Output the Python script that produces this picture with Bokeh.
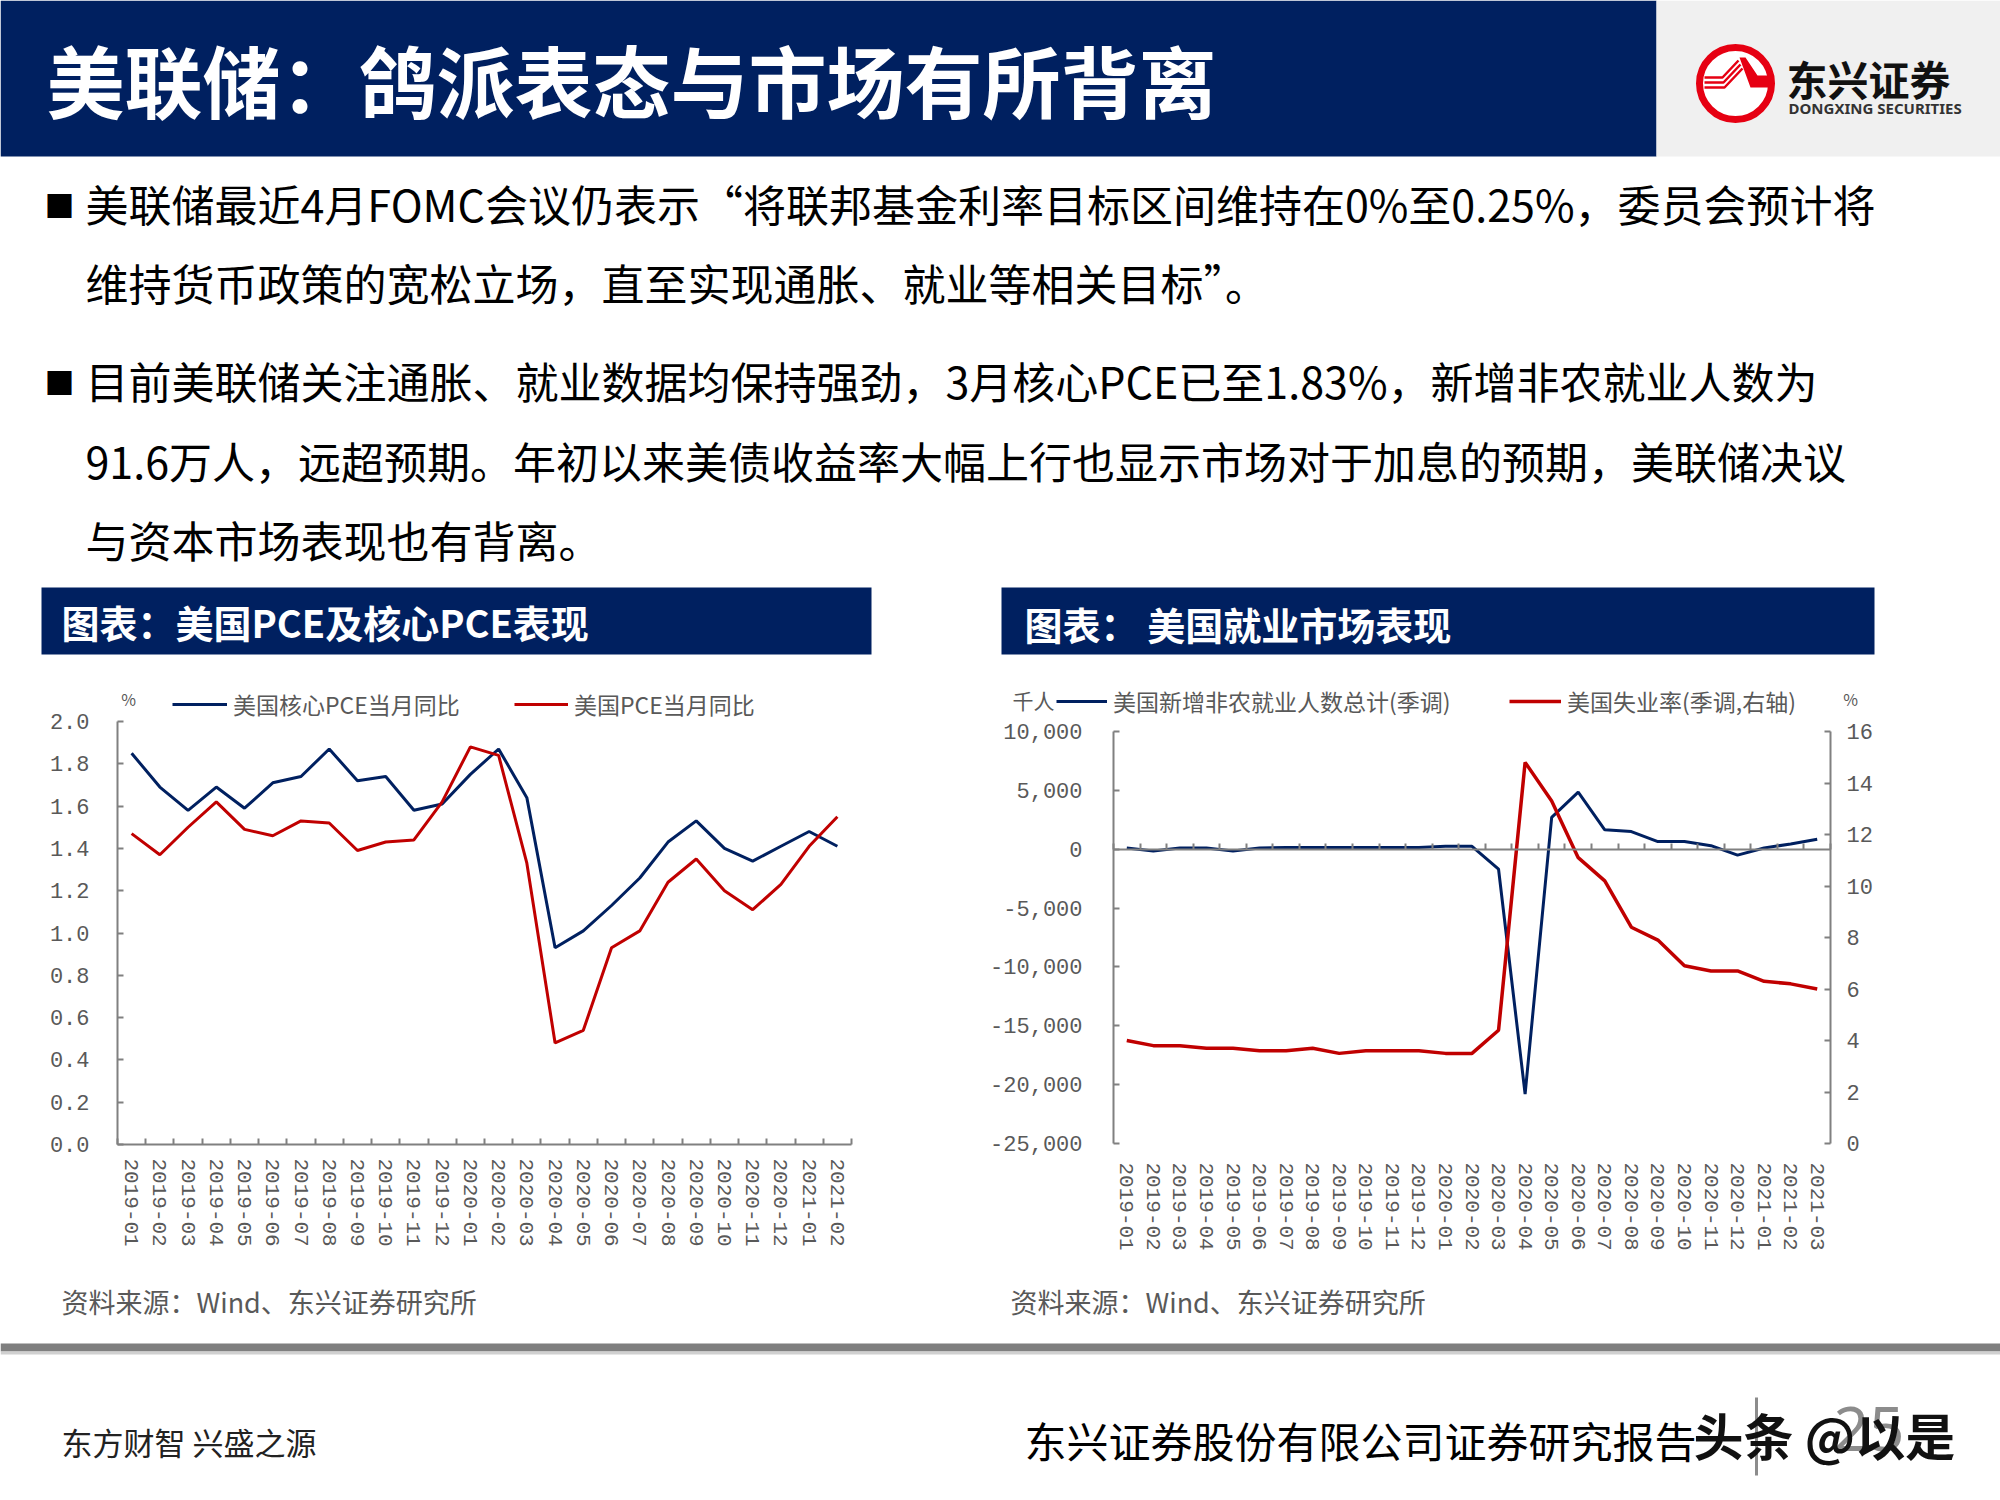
from bokeh.plotting import figure
from bokeh.models import (Range1d, LinearAxis, FixedTicker, NumeralTickFormatter,
                          Legend, LegendItem, Label)
from bokeh.layouts import column, row
from bokeh.core.properties import value
from bokeh.embed import file_html
from bokeh.resources import INLINE

# ---------------- data ----------------
months_pce = ["2019-01", "2019-02", "2019-03", "2019-04", "2019-05", "2019-06",
              "2019-07", "2019-08", "2019-09", "2019-10", "2019-11", "2019-12",
              "2020-01", "2020-02", "2020-03", "2020-04", "2020-05", "2020-06",
              "2020-07", "2020-08", "2020-09", "2020-10", "2020-11", "2020-12",
              "2021-01", "2021-02"]
core_pce = [1.85, 1.69, 1.58, 1.69, 1.59, 1.71, 1.74, 1.87, 1.72, 1.74, 1.58, 1.61,
            1.75, 1.87, 1.64, 0.93, 1.01, 1.13, 1.26, 1.43, 1.53, 1.40, 1.34, 1.41,
            1.48, 1.41]
pce = [1.47, 1.37, 1.50, 1.62, 1.49, 1.46, 1.53, 1.52, 1.39, 1.43, 1.44, 1.62,
       1.88, 1.84, 1.33, 0.48, 0.54, 0.93, 1.01, 1.24, 1.35, 1.20, 1.11, 1.23,
       1.41, 1.55]
pce_ticks = [0.0, 0.2, 0.4, 0.6, 0.8, 1.0, 1.2, 1.4, 1.6, 1.8, 2.0]

months_job = ["2019-01", "2019-02", "2019-03", "2019-04", "2019-05", "2019-06",
              "2019-07", "2019-08", "2019-09", "2019-10", "2019-11", "2019-12",
              "2020-01", "2020-02", "2020-03", "2020-04", "2020-05", "2020-06",
              "2020-07", "2020-08", "2020-09", "2020-10", "2020-11", "2020-12",
              "2021-01", "2021-02", "2021-03"]
nonfarm = [100, -150, 100, 100, -150, 100, 150, 150, 150, 150, 150, 150,
           250, 250, -1700, -20800, 2700, 4850, 1650, 1500, 650, 650, 300, -500,
           100, 450, 850]
unemp = [4.0, 3.8, 3.8, 3.7, 3.7, 3.6, 3.6, 3.7, 3.5, 3.6, 3.6, 3.6,
         3.5, 3.5, 4.4, 14.8, 13.3, 11.1, 10.2, 8.4, 7.9, 6.9, 6.7, 6.7,
         6.3, 6.2, 6.0]
job_ticks = [-25000, -20000, -15000, -10000, -5000, 0, 5000, 10000]
rate_ticks = [0, 2, 4, 6, 8, 10, 12, 14, 16]

title_text = "美联储：鸽派表态与市场有所背离"
body_lines = [
    "美联储最近4月FOMC会议仍表示“将联邦基金利率目标区间维持在0%至0.25%，委员会预计将",
    "维持货币政策的宽松立场，直至实现通胀、就业等相关目标”。",
    "目前美联储关注通胀、就业数据均保持强劲，3月核心PCE已至1.83%，新增非农就业人数为",
    "91.6万人，远超预期。年初以来美债收益率大幅上行也显示市场对于加息的预期，美联储决议",
    "与资本市场表现也有背离。",
]
chart_titles = ["图表：美国PCE及核心PCE表现", "图表：  美国就业市场表现"]
legend_pce = ["美国核心PCE当月同比", "美国PCE当月同比"]
legend_job = ["美国新增非农就业人数总计(季调)", "美国失业率(季调,右轴)"]
source_text = "资料来源：Wind、东兴证券研究所"

# ---------------- style ----------------
CJK = "Noto Sans CJK SC"
MONO = "Liberation Mono"
NAVY = "#002060"
RED = "#c00000"
LOGO_RED = "#e60012"
AXIS = "#808080"
TXT = "#595959"


def deco_fig(width, height, y0, y1):
    p = figure(width=width, height=height, x_range=Range1d(0, width),
               y_range=Range1d(y1, y0), toolbar_location=None, output_backend="svg",
               x_axis_type=None, y_axis_type=None, min_border=0)
    p.outline_line_color = None
    p.background_fill_color = "white"
    p.border_fill_color = "white"
    return p


def ext_range(v0, v1, p0, p1, total):
    """Range whose values v0, v1 fall at pixels p0, p1 of a canvas `total` px long."""
    scale = (v1 - v0) / (p1 - p0)
    return Range1d(v0 - p0 * scale, v1 + (total - p1) * scale)


# ---------------- top part ----------------
top = deco_fig(2000, 655, 0, 655)
top.quad(left=[0], right=[1656], top=[0], bottom=[156], fill_color=NAVY, line_color=None)
top.quad(left=[1656], right=[2000], top=[0], bottom=[156], fill_color="#f0f0f0", line_color=None)
top.text(x=[46], y=[78], text=[title_text], text_font=value(CJK), text_font_size="78px",
         text_font_style="bold", text_color="white", text_baseline="middle")
# logo
top.circle(x=[1735], y=[83], radius=36, fill_color="white", line_color=LOGO_RED, line_width=7)
top.multi_line(xs=[[1704, 1722, 1738], [1704, 1723, 1740], [1704, 1724, 1742]],
               ys=[[77, 77, 60], [82, 82, 64], [87, 87, 68]],
               line_color=LOGO_RED, line_width=2.5)
top.patch(x=[1739, 1745, 1757, 1770, 1770, 1750], y=[57, 57, 75, 75, 87, 87],
          fill_color=LOGO_RED, line_color=None)
top.text(x=[1786], y=[77], text=["东兴证券"], text_font=value(CJK), text_font_size="41px",
         text_font_style="bold", text_color="#111111", text_baseline="middle")
top.text(x=[1788], y=[107], text=["DONGXING SECURITIES"], text_font=value("Noto Sans"),
         text_font_size="15px", text_font_style="bold", text_color="#333333",
         text_baseline="middle")
# body
top.text(x=[44, 44], y=[203, 380], text=["■", "■"], text_font=value(CJK),
         text_font_size="30px", text_color="black", text_baseline="middle")
top.text(x=[85] * 5, y=[202, 281, 379, 459, 538], text=body_lines, text_font=value(CJK),
         text_font_size="43px", text_color="black", text_baseline="middle")
# chart banners
top.quad(left=[41, 1001], right=[871, 1874], top=[587, 587], bottom=[654, 654],
         fill_color=NAVY, line_color=None)
top.text(x=[61, 1024], y=[621, 623], text=chart_titles, text_font=value(CJK),
         text_font_size="38px", text_font_style="bold", text_color="white",
         text_baseline="middle")


def style_axis(ax, tick_in=6, tick_out=0):
    ax.axis_line_color = AXIS
    ax.axis_line_width = 2
    ax.major_tick_line_color = AXIS
    ax.major_tick_line_width = 2
    ax.major_tick_in = tick_in
    ax.major_tick_out = tick_out
    ax.minor_tick_line_color = None
    ax.major_label_text_font = MONO
    ax.major_label_text_font_size = "22px"
    ax.major_label_text_color = TXT


def chart_fig(width, height, xr, yr):
    p = figure(width=width, height=height, x_range=xr, y_range=yr,
               toolbar_location=None, output_backend="svg",
               x_axis_type=None, y_axis_type=None, min_border=0)
    p.outline_line_color = None
    p.background_fill_color = "white"
    p.border_fill_color = "white"
    return p


def cat_axis(months, loc, standoff, with_line, tick_len):
    n = len(months)
    ax = LinearAxis(ticker=FixedTicker(ticks=list(range(n)),
                                       minor_ticks=[i - 0.5 for i in range(n + 1)]),
                    major_label_overrides={i: m for i, m in enumerate(months)},
                    fixed_location=loc, bounds=(-0.5, n - 0.5))
    style_axis(ax, 0, 0)
    ax.major_tick_line_color = None
    ax.major_label_text_font_size = "21px"
    if with_line:
        ax.minor_tick_line_color = AXIS
        ax.minor_tick_line_width = 2
        ax.minor_tick_in = tick_len
        ax.minor_tick_out = 0
    else:
        ax.axis_line_color = None
    ax.major_label_orientation = "vertical"
    ax.major_label_standoff = standoff
    return ax


def single_legend(p, label, r, loc, glyph_w):
    leg = Legend(items=[LegendItem(label=label, renderers=[r])], location=loc,
                 orientation="horizontal", padding=0, margin=0, spacing=0,
                 border_line_color=None, background_fill_alpha=0,
                 glyph_width=glyph_w, glyph_height=20, label_standoff=6,
                 label_text_font=CJK, label_text_font_size="23px",
                 label_text_color=TXT)
    p.add_layout(leg, "center")


def unit_label(p, x, y, text, size):
    p.add_layout(Label(x=x, y=y, x_units="screen", y_units="screen", text=text,
                       text_font=CJK, text_font_size=size, text_color=TXT,
                       text_align="center", text_baseline="middle"))


# ---------------- left chart (canvas x 0..960, y 655..1275) ----------------
n1 = len(months_pce)
W1, H1 = 960, 620
left = chart_fig(W1, H1, ext_range(-0.5, n1 - 0.5, 117, 851, W1),
                 ext_range(pce_ticks[0], pce_ticks[-1], 1275 - 1144, 1275 - 721, H1))
idx1 = list(range(n1))
r_core = left.line(idx1, core_pce, line_color=NAVY, line_width=3)
r_pce = left.line(idx1, pce, line_color=RED, line_width=3)

ly = LinearAxis(ticker=FixedTicker(ticks=pce_ticks), formatter=NumeralTickFormatter(format="0.0"),
                fixed_location=-0.5, bounds=(pce_ticks[0], pce_ticks[-1]))
style_axis(ly)
ly.major_label_standoff = 28
left.add_layout(ly, "left")
left.add_layout(cat_axis(months_pce, 0, 14, True, 6), "below")
single_legend(left, legend_pce[0], r_core, (172, 554), 55)
single_legend(left, legend_pce[1], r_pce, (514, 554), 54)
unit_label(left, 128, 577, "%", "16px")

# ---------------- right chart (canvas x 960..2000, y 655..1275) ----------------
n2 = len(months_job)
W2, H2 = 1040, 620
right = chart_fig(W2, H2, ext_range(-0.5, n2 - 0.5, 1113 - 960, 1830 - 960, W2),
                  ext_range(job_ticks[0], job_ticks[-1], 1275 - 1143, 1275 - 731, H2))
right.extra_y_ranges = {"rate": ext_range(rate_ticks[0], rate_ticks[-1],
                                          1275 - 1143, 1275 - 731, H2)}
idx2 = list(range(n2))
r_nf = right.line(idx2, nonfarm, line_color=NAVY, line_width=3)
r_un = right.line(idx2, unemp, line_color=RED, line_width=3.5, y_range_name="rate")

ry = LinearAxis(ticker=FixedTicker(ticks=job_ticks), formatter=NumeralTickFormatter(format="0,0"),
                fixed_location=-0.5, bounds=(job_ticks[0], job_ticks[-1]))
style_axis(ry)
ry.major_label_standoff = 31
right.add_layout(ry, "left")
rr = LinearAxis(y_range_name="rate", ticker=FixedTicker(ticks=rate_ticks),
                fixed_location=n2 - 0.5, bounds=(rate_ticks[0], rate_ticks[-1]))
style_axis(rr)
rr.major_label_standoff = 16
right.add_layout(rr, "right")
zero_ax = cat_axis(months_job, 0, 0, True, 6)
zero_ax.major_label_text_font_size = "0px"
zero_ax.major_label_overrides = {}
zero_ax.ticker = FixedTicker(ticks=[], minor_ticks=[i - 0.5 for i in range(n2 + 1)])
right.add_layout(zero_ax, "below")
right.add_layout(cat_axis(months_job, job_ticks[0], 15, False, 0), "below")
single_legend(right, legend_job[0], r_nf, (1056 - 960, 557), 51)
single_legend(right, legend_job[1], r_un, (1509 - 960, 557), 52)
unit_label(right, 1033 - 960, 576, "千人", "21px")
unit_label(right, 1850 - 960, 577, "%", "16px")

# ---------------- bottom part ----------------
bot = deco_fig(2000, 225, 1275, 1500)
bot.text(x=[61, 1010], y=[1301, 1301], text=[source_text, source_text], text_font=value(CJK),
         text_font_size="27px", text_color=TXT, text_baseline="middle")
bot.quad(left=[0], right=[2000], top=[1343], bottom=[1351], fill_color="#7f7f7f", line_color=None)
bot.quad(left=[0], right=[2000], top=[1351], bottom=[1354], fill_color="#d0d0d0", line_color=None)
bot.text(x=[61], y=[1441], text=["东方财智 兴盛之源"], text_font=value(CJK),
         text_font_size="31px", text_color="#222222", text_baseline="middle")
bot.text(x=[1024], y=[1439], text=["东兴证券股份有限公司证券研究报告"], text_font=value(CJK),
         text_font_size="42px", text_color="black", text_baseline="middle")
bot.text(x=[1833], y=[1428], text=["25"], text_font=value("Noto Sans"),
         text_font_size="62px", text_color="#8c8c8c", text_baseline="middle")
bot.segment(x0=[1756], y0=[1397], x1=[1756], y1=[1475], line_color="#8c8c8c", line_width=3)
bot.text(x=[1693], y=[1433], text=["头条 @以是"], text_font=value(CJK),
         text_font_size="50px", text_font_style="bold", text_color="#111111",
         text_baseline="middle")

layout = column(top, row(left, right), bot)
open("out.html", "w").write(file_html(layout, INLINE))
